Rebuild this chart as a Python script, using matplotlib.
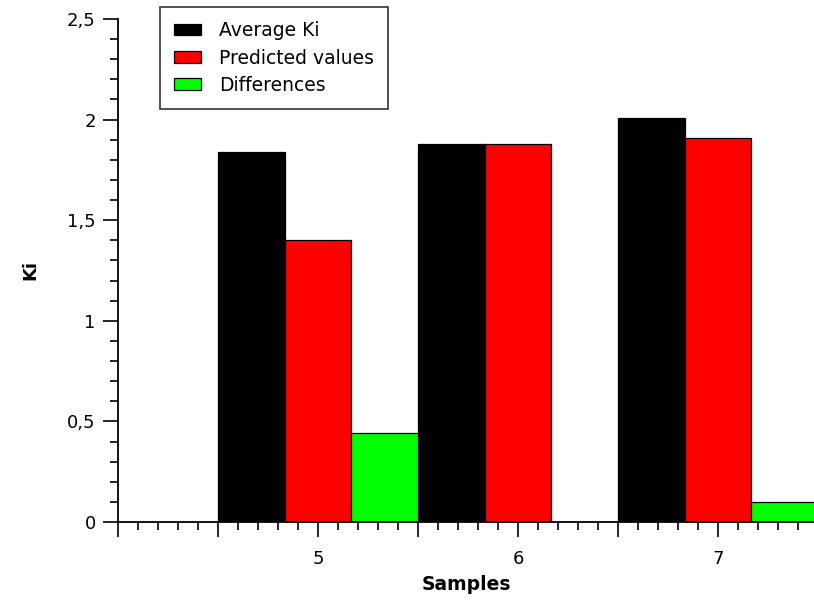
import matplotlib
matplotlib.use("Agg")
import matplotlib.pyplot as plt
from matplotlib.ticker import MultipleLocator, FuncFormatter
import numpy as np

samples = [5, 6, 7]
average_ki = [1.84, 1.88, 2.01]
predicted = [1.40, 1.88, 1.91]
differences = [0.44, 0.00, 0.10]
series_names = ["Average Ki", "Predicted values", "Differences"]
series_colors = ["#000000", "#ff0000", "#00ff00"]

plt.rcParams["font.family"] = ["DejaVu Sans"]

fig = plt.figure(figsize=(8.14, 6.06), dpi=100)
ax = fig.add_axes([118 / 814, 1 - 522 / 606, 1 - 118 / 814, (522 - 19) / 606])

width = 1 / 3
x = np.array(samples, dtype=float)
handles = []
for i, (vals, name, col) in enumerate(zip([average_ki, predicted, differences],
                                          series_names, series_colors)):
    b = ax.bar(x + (i - 1) * width, vals, width=width, color=col,
               edgecolor="black", linewidth=0.9, label=name)
    handles.append(b)

ax.set_xlim(4.0, 7.48)
ax.set_ylim(0, 2.5)

for s in ["top", "right"]:
    ax.spines[s].set_visible(False)
for s in ["left", "bottom"]:
    ax.spines[s].set_linewidth(1.3)

ax.yaxis.set_major_locator(MultipleLocator(0.5))
ax.yaxis.set_minor_locator(MultipleLocator(0.1))
ax.yaxis.set_major_formatter(FuncFormatter(
    lambda v, p: ("%g" % v).replace(".", ",")))

ax.xaxis.set_major_locator(MultipleLocator(0.5))
ax.xaxis.set_minor_locator(MultipleLocator(0.1))
ax.xaxis.set_major_formatter(FuncFormatter(
    lambda v, p: ("%d" % round(v)) if abs(v - round(v)) < 1e-6 and round(v) in samples else ""))

ax.tick_params(which="major", direction="out", length=11, width=1.2,
               labelsize=13, colors="black", pad=5)
ax.tick_params(which="minor", direction="out", length=6, width=1.2)
ax.tick_params(axis="x", which="major", pad=9)

ax.set_xlabel("Samples", fontsize=13.5, fontweight="bold", labelpad=5)
ax.set_ylabel("Ki", fontsize=13, fontweight="bold", labelpad=20)

leg = fig.legend(handles=handles, labels=series_names, loc="upper left",
                 bbox_to_anchor=(160 / 814, 1 - 7 / 606), fontsize=13.5,
                 frameon=True, fancybox=False, edgecolor="black",
                 handlelength=1.45, handleheight=0.6, handletextpad=0.95,
                 labelspacing=0.45, borderpad=0.75, borderaxespad=0)
leg.get_frame().set_linewidth(1.2)

fig.savefig("out.png", dpi=100)
